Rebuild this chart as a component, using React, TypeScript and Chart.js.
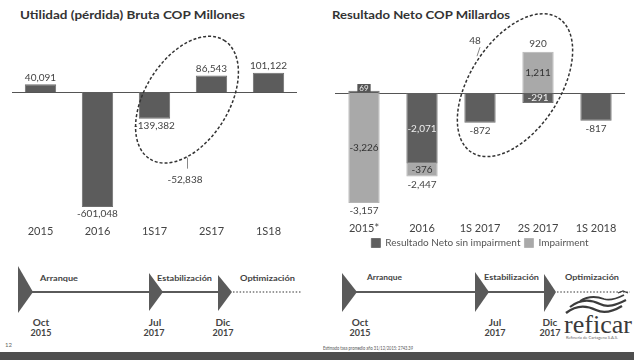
import React, { useEffect, useRef } from "react";
import { Chart, registerables } from "chart.js";

Chart.register(...registerables);

// ---------------- Data ----------------
const utilidadCategories = ["2015", "2016", "1S17", "2S17", "1S18"];
const utilidadValues = [40091, -601048, -139382, 86543, 101122];
const utilidad2017Total = -52838;

const netoCategories = ["2015*", "2016", "1S 2017", "2S 2017", "1S 2018"];
const netoSinImpairment = [69, -2071, -872, -291, -817];
const impairmentValues = [-3226, -376, 0, 1211, 0];
const netoTotals = [-3157, -2447, -872, 920, -817];
const neto2017Total = 48;

const seriesNames = ["Resultado Neto sin impairment", "Impairment"];

// ---------------- Helpers ----------------
const FONT = "Lato, 'DejaVu Sans', sans-serif";
const fmt = (v: number) => {
  const s = Math.abs(Math.round(v)).toString().replace(/\B(?=(\d{3})+(?!\d))/g, ",");
  return (v < 0 ? "-" : "") + s;
};

const zeroLine = (chart: any, color: string) => {
  const { ctx, chartArea, scales } = chart;
  const y0 = Math.round(scales.y.getPixelForValue(0)) + 0.5;
  ctx.save();
  ctx.strokeStyle = color;
  ctx.lineWidth = 1;
  ctx.beginPath();
  ctx.moveTo(chartArea.left, y0);
  ctx.lineTo(chartArea.right, y0);
  ctx.stroke();
  ctx.restore();
};

const leftPlugin = {
  id: "leftDecor",
  beforeDatasetsDraw(chart: any) {
    zeroLine(chart, "#555");
  },
  afterDatasetsDraw(chart: any) {
    const { ctx, scales } = chart;
    const meta = chart.getDatasetMeta(0);
    ctx.save();
    ctx.font = `10px ${FONT}`;
    ctx.fillStyle = "#444";
    ctx.textAlign = "center";
    meta.data.forEach((bar: any, i: number) => {
      const v = utilidadValues[i];
      if (v >= 0) {
        ctx.textBaseline = "bottom";
        ctx.fillText(fmt(v), bar.x, bar.y - 2);
      } else {
        ctx.textBaseline = "top";
        ctx.fillText(fmt(v), bar.x, bar.y + 2);
      }
    });
    // dashed ellipse around the 2017 semesters
    const xs = scales.x;
    const cx = (xs.getPixelForValue(2) + xs.getPixelForValue(3)) / 2 + 4;
    const cy = scales.y.getPixelForValue(-40000);
    ctx.strokeStyle = "#333";
    ctx.lineWidth = 1.5;
    ctx.setLineDash([3, 2]);
    ctx.beginPath();
    ctx.ellipse(cx, cy, 70, 42, (-58 * Math.PI) / 180, 0, Math.PI * 2);
    ctx.stroke();
    ctx.setLineDash([]);
    ctx.strokeStyle = "#888";
    ctx.lineWidth = 1;
    ctx.beginPath();
    ctx.moveTo(cx + 0.5, cy + 58);
    ctx.lineTo(cx + 0.5, cy + 69);
    ctx.stroke();
    ctx.textBaseline = "top";
    ctx.fillStyle = "#444";
    ctx.fillText(fmt(utilidad2017Total), cx - 2, cy + 75);
    ctx.restore();
  },
};

const rightPlugin = {
  id: "rightDecor",
  beforeDatasetsDraw(chart: any) {
    zeroLine(chart, "#555");
  },
  afterDatasetsDraw(chart: any) {
    const { ctx, scales } = chart;
    const m0 = chart.getDatasetMeta(0);
    const m1 = chart.getDatasetMeta(1);
    ctx.save();
    ctx.font = `10px ${FONT}`;
    ctx.textAlign = "center";
    netoTotals.forEach((total, i) => {
      const d = m0.data[i];
      const l = m1.data[i];
      const top = Math.min(d.y, d.base, l.y, l.base);
      const bottom = Math.max(d.y, d.base, l.y, l.base);
      ctx.fillStyle = "#444";
      if (total >= 0) {
        ctx.textBaseline = "bottom";
        ctx.fillText(fmt(total), d.x, top - 3);
      } else {
        ctx.textBaseline = "top";
        ctx.fillText(fmt(total), d.x, bottom + 3);
      }
      const both = netoSinImpairment[i] !== 0 && impairmentValues[i] !== 0;
      if (!both) return;
      const segs = [
        { el: d, v: netoSinImpairment[i], color: "#eeeeee", box: "#555" },
        { el: l, v: impairmentValues[i], color: "#333", box: "#999" },
      ];
      segs.forEach((s) => {
        const h = Math.abs(s.el.base - s.el.y);
        ctx.textBaseline = "middle";
        if (h >= 9) {
          ctx.fillStyle = s.color;
          ctx.fillText(fmt(s.v), s.el.x, (s.el.y + s.el.base) / 2);
        } else {
          ctx.font = `8px ${FONT}`;
          const w = ctx.measureText(fmt(s.v)).width + 4;
          const yc = s.v >= 0 ? s.el.base - 5 : s.el.base + 5;
          ctx.fillStyle = s.box;
          ctx.fillRect(s.el.x - w / 2, yc - 4, w, 8);
          ctx.fillStyle = s.color;
          ctx.fillText(fmt(s.v), s.el.x, yc);
          ctx.font = `10px ${FONT}`;
        }
      });
    });
    // dashed ellipse around the 2017 semesters
    const xs = scales.x;
    const cx = (xs.getPixelForValue(2) + xs.getPixelForValue(3)) / 2 + 6;
    const cy = scales.y.getPixelForValue(230);
    ctx.strokeStyle = "#333";
    ctx.lineWidth = 1.5;
    ctx.setLineDash([3, 2]);
    ctx.beginPath();
    ctx.ellipse(cx, cy, 80, 45, (-57 * Math.PI) / 180, 0, Math.PI * 2);
    ctx.stroke();
    ctx.setLineDash([]);
    ctx.strokeStyle = "#888";
    ctx.lineWidth = 1;
    ctx.beginPath();
    ctx.moveTo(cx - 35, cy - 38);
    ctx.lineTo(cx - 38, cy - 29);
    ctx.stroke();
    ctx.fillStyle = "#444";
    ctx.textBaseline = "middle";
    ctx.fillText(fmt(neto2017Total), cx - 40, cy - 44);
    ctx.restore();
  },
};

function LeftChart() {
  const ref = useRef<HTMLCanvasElement>(null);
  useEffect(() => {
    const chart = new Chart(ref.current as HTMLCanvasElement, {
      type: "bar",
      data: {
        labels: utilidadCategories,
        datasets: [
          {
            data: utilidadValues,
            backgroundColor: "#5c5c5c",
            borderColor: "#6e6e6e",
            borderWidth: 1,
            barPercentage: 0.55,
            categoryPercentage: 1,
          },
        ],
      },
      options: {
        animation: false,
        responsive: false,
        layout: { padding: { left: 12, right: 20, top: 30, bottom: 3 } },
        scales: {
          x: {
            grid: { display: false, drawTicks: false },
            border: { display: false },
            ticks: { font: { size: 11, family: FONT }, color: "#444", padding: 4 },
          },
          y: { display: false, min: -673100, max: 324000 },
        },
        plugins: { legend: { display: false }, tooltip: { enabled: false } },
      },
      plugins: [leftPlugin],
    } as any);
    return () => chart.destroy();
  }, []);
  return (
    <canvas
      ref={ref}
      width={317}
      height={245}
      style={{ position: "absolute", left: 0, top: 0, width: 317, height: 245 }}
    />
  );
}

function RightChart() {
  const ref = useRef<HTMLCanvasElement>(null);
  useEffect(() => {
    const chart = new Chart(ref.current as HTMLCanvasElement, {
      type: "bar",
      data: {
        labels: netoCategories,
        datasets: [
          {
            label: seriesNames[0],
            data: netoSinImpairment,
            backgroundColor: "#5e5e5e",
            borderColor: "#707070",
            borderWidth: 1,
            barPercentage: 0.54,
            categoryPercentage: 1,
          },
          {
            label: seriesNames[1],
            data: impairmentValues,
            backgroundColor: "#a9a9a9",
            borderColor: "#b5b5b5",
            borderWidth: 1,
            barPercentage: 0.54,
            categoryPercentage: 1,
          },
        ],
      },
      options: {
        animation: false,
        responsive: false,
        layout: { padding: { left: 18, right: 9, top: 30, bottom: 0 } },
        scales: {
          x: {
            stacked: true,
            grid: { display: false, drawTicks: false },
            border: { display: false },
            ticks: {
              font: { size: 11, family: FONT, lineHeight: 1 },
              color: "#444",
              padding: 0,
            },
          },
          y: { stacked: true, display: false, min: -3812, max: 1848 },
        },
        plugins: {
          legend: {
            display: true,
            position: "bottom",
            labels: {
              boxWidth: 9,
              boxHeight: 9,
              padding: 4,
              color: "#555",
              font: { size: 10, family: FONT },
            },
          },
          tooltip: { enabled: false },
        },
      },
      plugins: [rightPlugin],
    } as any);
    return () => chart.destroy();
  }, []);
  return (
    <canvas
      ref={ref}
      width={317}
      height={258}
      style={{ position: "absolute", left: 317, top: 0, width: 317, height: 258 }}
    />
  );
}

const tlText = { fontFamily: FONT, fontWeight: 700, fill: "#444" } as const;

function Overlay() {
  const tri = (x: number, top: number, bottom: number, w: number) =>
    `${x},${top} ${x + w},292 ${x},${bottom}`;
  return (
    <svg
      width={634}
      height={360}
      style={{ position: "absolute", left: 0, top: 0 }}
      xmlns="http://www.w3.org/2000/svg"
    >
      <rect x={0} y={0} width={634} height={360} fill="#ffffff" />
      {/* titles */}
      <text x={20} y={19} textLength={225} lengthAdjust="spacingAndGlyphs" style={{ ...tlText, fill: "#333" }} fontSize={12}>
        Utilidad (pérdida) Bruta COP Millones
      </text>
      <text x={332} y={19} textLength={178} lengthAdjust="spacingAndGlyphs" style={{ ...tlText, fill: "#333" }} fontSize={12}>
        Resultado Neto COP Millardos
      </text>

      {/* left timeline */}
      <line x1={30} y1={292} x2={150} y2={292} stroke="#5a5a5a" strokeWidth={2} />
      <line x1={160} y1={292} x2={219} y2={292} stroke="#5a5a5a" strokeWidth={2} />
      <line x1={233} y1={292} x2={302} y2={292} stroke="#777" strokeWidth={1.3} strokeDasharray="1.5,1.8" />
      <polygon points={tri(18, 266, 313, 15)} fill="#5a5a5a" />
      <polygon points={tri(149, 273, 311, 14)} fill="#5a5a5a" />
      <polygon points={tri(218, 275, 311, 14)} fill="#5a5a5a" />
      <text x={40} y={281} fontSize={8} textLength={38} lengthAdjust="spacingAndGlyphs" style={tlText}>Arranque</text>
      <text x={157} y={281} fontSize={8} textLength={55} lengthAdjust="spacingAndGlyphs" style={tlText}>Estabilización</text>
      <text x={240} y={281} fontSize={8} textLength={55} lengthAdjust="spacingAndGlyphs" style={tlText}>Optimización</text>
      <text x={41} y={326} fontSize={10} textAnchor="middle" style={tlText}>Oct</text>
      <text x={41} y={336} fontSize={9} textAnchor="middle" style={tlText}>2015</text>
      <text x={155} y={326} fontSize={10} textAnchor="middle" style={tlText}>Jul</text>
      <text x={154} y={336} fontSize={9} textAnchor="middle" style={tlText}>2017</text>
      <text x={223} y={326} fontSize={10} textAnchor="middle" style={tlText}>Dic</text>
      <text x={223} y={336} fontSize={9} textAnchor="middle" style={tlText}>2017</text>
      <text x={5} y={347} fontSize={6} style={{ fontFamily: FONT, fill: "#666" }}>12</text>

      {/* right timeline */}
      <line x1={354} y1={292} x2={476} y2={292} stroke="#5a5a5a" strokeWidth={2} />
      <line x1={486} y1={292} x2={545} y2={292} stroke="#5a5a5a" strokeWidth={2} />
      <line x1={557} y1={292} x2={630} y2={292} stroke="#777" strokeWidth={1.3} strokeDasharray="1.5,1.8" />
      <polygon points={tri(342, 273, 312, 15)} fill="#5a5a5a" />
      <polygon points={tri(475, 272, 312, 14)} fill="#5a5a5a" />
      <polygon points={tri(544, 274, 312, 12)} fill="#5a5a5a" />
      <text x={367} y={280} fontSize={8} textLength={35} lengthAdjust="spacingAndGlyphs" style={tlText}>Arranque</text>
      <text x={484} y={280} fontSize={8} textLength={55} lengthAdjust="spacingAndGlyphs" style={tlText}>Estabilización</text>
      <text x={565} y={280} fontSize={8} textLength={54} lengthAdjust="spacingAndGlyphs" style={tlText}>Optimización</text>
      <text x={360} y={326} fontSize={10} textAnchor="middle" style={tlText}>Oct</text>
      <text x={360} y={336} fontSize={9} textAnchor="middle" style={tlText}>2015</text>
      <text x={495} y={326} fontSize={10} textAnchor="middle" style={tlText}>Jul</text>
      <text x={495} y={336} fontSize={9} textAnchor="middle" style={tlText}>2017</text>
      <text x={550} y={326} fontSize={10} textAnchor="middle" style={tlText}>Dic</text>
      <text x={550} y={336} fontSize={9} textAnchor="middle" style={tlText}>2017</text>

      {/* logo */}
      <path d="M566,313 C576,305 586,305 596,310 C604,314 612,312 622,306" stroke="#3c3c3c" strokeWidth={2.4} fill="none" />
      <path d="M570,307 C580,299 590,299 600,304 C608,308 616,305 626,300" stroke="#3c3c3c" strokeWidth={2.2} fill="none" />
      <path d="M580,301 C588,296 596,296 604,299 C610,301 616,299 624,295" stroke="#3c3c3c" strokeWidth={1.8} fill="none" />
      <path d="M618,293 L623,291 L628,293" stroke="#3c3c3c" strokeWidth={1.2} fill="none" />
      <text x={564} y={333} fontSize={25} textLength={68} lengthAdjust="spacingAndGlyphs" style={{ fontFamily: "'Liberation Serif', 'DejaVu Serif', serif", fill: "#3a3a3a" }}>
        reficar
      </text>
      <text x={566} y={339} fontSize={4} textLength={52} lengthAdjust="spacingAndGlyphs" style={{ fontFamily: FONT, fill: "#666" }}>
        Refinería de Cartagena S.A.S.
      </text>

      {/* footnote */}
      <text x={323} y={350} fontSize={5.5} textLength={90} lengthAdjust="spacingAndGlyphs" style={{ fontFamily: FONT, fill: "#555" }}>
        Estimado tasa promedio año 31/12/2015: 2743.39
      </text>

      {/* bottom band */}
      <rect x={0} y={352} width={634} height={8} fill="#4e4e4e" />
    </svg>
  );
}

export default function App() {
  useEffect(() => {
    document.body.style.margin = "0";
  }, []);
  return (
    <div
      style={{
        position: "relative",
        width: 634,
        height: 360,
        overflow: "hidden",
        background: "#ffffff",
      }}
    >
      <Overlay />
      <LeftChart />
      <RightChart />
    </div>
  );
}
